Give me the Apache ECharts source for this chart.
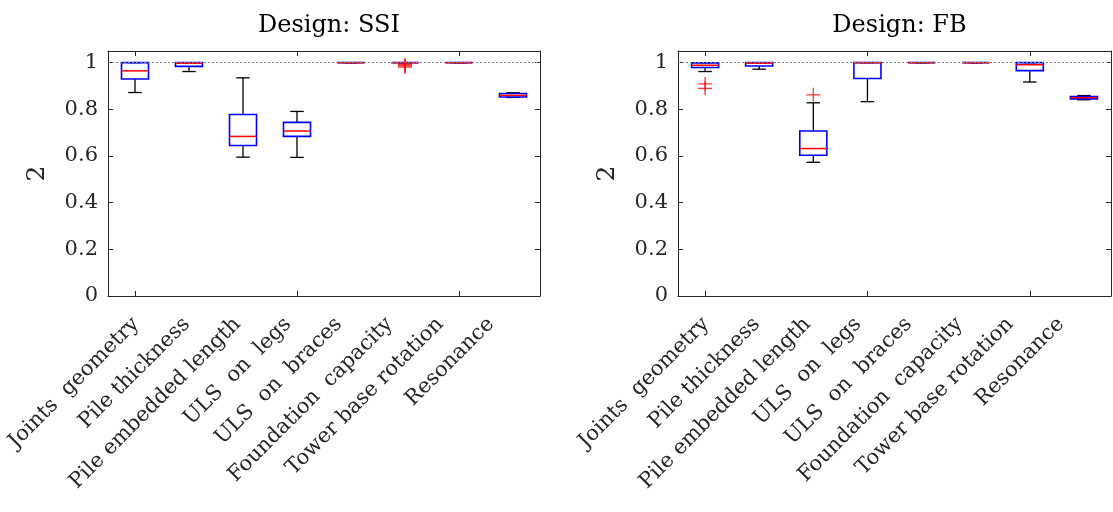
<!DOCTYPE html>
<html>
<head>
<meta charset="utf-8">
<script src="https://cdn.jsdelivr.net/npm/echarts@6/dist/echarts.min.js"></script>
<style>
  html, body { margin: 0; padding: 0; background: #fff; }
  #chart { width: 1113px; height: 512px; }
</style>
</head>
<body>
<div id="chart"></div>
<script>
// Check categories shared by both designs
const categories = [
  'Joints  geometry', 'Pile thickness', 'Pile embedded length', 'ULS  on  legs',
  'ULS  on  braces', 'Foundation  capacity', 'Tower base rotation', 'Resonance'
];

// Design: SSI — five-number summaries per check
const ssiMin    = [0.872, 0.962, 0.595, 0.594, 1.000, 1.000, 1.000, 0.851];
const ssiQ1     = [0.930, 0.984, 0.645, 0.684, 1.000, 1.000, 1.000, 0.853];
const ssiMedian = [0.965, 0.998, 0.684, 0.707, 1.000, 1.000, 1.000, 0.860];
const ssiQ3     = [1.000, 1.000, 0.778, 0.744, 1.000, 1.000, 1.000, 0.868];
const ssiMax    = [1.000, 1.000, 0.935, 0.791, 1.000, 1.000, 1.000, 0.871];
const ssiOutliers = [[5, 0.991], [5, 0.986], [5, 0.981]];

// Design: FB — five-number summaries per check
const fbMin    = [0.962, 0.972, 0.573, 0.833, 1.000, 1.000, 0.917, 0.841];
const fbQ1     = [0.979, 0.986, 0.603, 0.932, 1.000, 1.000, 0.966, 0.845];
const fbMedian = [0.989, 0.998, 0.632, 1.000, 1.000, 1.000, 0.991, 0.850];
const fbQ3     = [0.999, 1.000, 0.707, 1.000, 1.000, 1.000, 1.000, 0.855];
const fbMax    = [1.000, 1.000, 0.828, 1.000, 1.000, 1.000, 1.000, 0.859];
const fbOutliers = [[0, 0.909], [0, 0.890], [2, 0.862]];

const referenceLevel = 1;
const yAxisTitle = '2';

const FONT = 'DejaVu Serif';
const AXIS_COLOR = '#262626';

function rows(mins, q1s, meds, q3s, maxs) {
  return categories.map((_, i) => [i, mins[i], q1s[i], meds[i], q3s[i], maxs[i]]);
}

// Box: black whiskers with caps, blue box outline, red median
function renderBox(params, api) {
  const i = api.value(0);
  const lo = api.coord([i, api.value(1)]);
  const q1 = api.coord([i, api.value(2)]);
  const md = api.coord([i, api.value(3)]);
  const q3 = api.coord([i, api.value(4)]);
  const hi = api.coord([i, api.value(5)]);
  const band = api.size([1, 0])[0];
  const bw = band * 0.5;
  const cw = band * 0.25;
  const x = lo[0];
  const whisker = { stroke: '#000', lineWidth: 1.3 };
  return {
    type: 'group',
    children: [
      { type: 'line', shape: { x1: x, y1: q3[1], x2: x, y2: hi[1] }, style: whisker },
      { type: 'line', shape: { x1: x, y1: q1[1], x2: x, y2: lo[1] }, style: whisker },
      { type: 'line', shape: { x1: x - cw / 2, y1: hi[1], x2: x + cw / 2, y2: hi[1] }, style: whisker },
      { type: 'line', shape: { x1: x - cw / 2, y1: lo[1], x2: x + cw / 2, y2: lo[1] }, style: whisker },
      { type: 'rect', shape: { x: x - bw / 2, y: q3[1], width: bw, height: q1[1] - q3[1] },
        style: { fill: 'none', stroke: '#0000ff', lineWidth: 1.6 } },
      { type: 'line', shape: { x1: x - bw / 2, y1: md[1], x2: x + bw / 2, y2: md[1] },
        style: { stroke: '#ff0000', lineWidth: 1.5 } }
    ]
  };
}

const plusSymbol = 'path://M0,7L14,7M7,0L7,14';

function frameX(gridIndex, position) {
  return {
    type: 'category', data: categories, gridIndex, position, boundaryGap: true,
    axisLine: { show: true, onZero: false, lineStyle: { color: AXIS_COLOR, width: 1 } },
    axisTick: { show: true, inside: true, alignWithLabel: true, length: 5, lineStyle: { color: AXIS_COLOR } },
    axisLabel: { show: false }, splitLine: { show: false }
  };
}

function labelX(gridIndex) {
  return {
    type: 'category', data: categories, gridIndex, position: 'bottom', boundaryGap: true,
    axisLine: { show: false }, axisTick: { show: false }, splitLine: { show: false },
    axisLabel: { show: true, interval: 0, rotate: 45, margin: 25, fontFamily: FONT, fontSize: 21, color: AXIS_COLOR }
  };
}

function frameY(gridIndex, position, withLabels) {
  const axis = {
    type: 'value', gridIndex, position, min: 0, max: 1.05, interval: 0.2,
    axisLine: { show: true, onZero: false, lineStyle: { color: AXIS_COLOR, width: 1 } },
    axisTick: { show: true, inside: true, length: 5, lineStyle: { color: AXIS_COLOR } },
    splitLine: { show: false },
    axisLabel: {
      show: withLabels, margin: 10, fontFamily: FONT, fontSize: 21, color: AXIS_COLOR,
      formatter: v => Math.abs(v * 5 - Math.round(v * 5)) < 1e-9 ? String(+v.toFixed(1)) : ''
    }
  };
  if (withLabels) {
    Object.assign(axis, {
      name: yAxisTitle, nameLocation: 'middle', nameRotate: 90, nameGap: 58,
      nameTextStyle: { fontFamily: FONT, fontSize: 25, color: AXIS_COLOR }
    });
  }
  return axis;
}

function designSeries(axisIndex, mins, q1s, meds, q3s, maxs, outliers) {
  return [
    {
      type: 'line', xAxisIndex: axisIndex, yAxisIndex: axisIndex, data: [], z: 1, silent: true,
      markLine: {
        silent: true, symbol: 'none', label: { show: false }, animation: false,
        lineStyle: { color: '#808080', type: [2, 2], width: 1 },
        data: [{ yAxis: referenceLevel }]
      }
    },
    {
      type: 'custom', xAxisIndex: axisIndex, yAxisIndex: axisIndex, z: 3,
      renderItem: renderBox, data: rows(mins, q1s, meds, q3s, maxs),
      encode: { x: 0, y: [1, 2, 3, 4, 5] }
    },
    {
      type: 'scatter', xAxisIndex: axisIndex, yAxisIndex: axisIndex, z: 4,
      symbol: plusSymbol, symbolSize: 14, data: outliers,
      itemStyle: { color: 'rgba(0,0,0,0)', borderColor: '#ff0000', borderWidth: 1.3 }
    }
  ];
}

const titleStyle = { fontFamily: FONT, fontSize: 24, fontWeight: 'normal', color: '#000' };

const option = {
  animation: false,
  backgroundColor: '#fff',
  title: [
    { text: 'Design: SSI', left: 324, top: 9, textAlign: 'center', textStyle: titleStyle },
    { text: 'Design: FB', left: 894.5, top: 9, textAlign: 'center', textStyle: titleStyle }
  ],
  grid: [
    { left: 108, right: 573, top: 51, bottom: 216 },
    { left: 678, right: 2, top: 51, bottom: 216 },
    { left: 110.6, right: 596.8, top: 51, bottom: 216 },
    { left: 680.6, right: 26.8, top: 51, bottom: 216 }
  ],
  xAxis: [
    frameX(0, 'bottom'), frameX(1, 'bottom'),
    frameX(0, 'top'), frameX(1, 'top'),
    labelX(2), labelX(3)
  ],
  yAxis: [
    frameY(0, 'left', true), frameY(1, 'left', true),
    frameY(0, 'right', false), frameY(1, 'right', false),
    { type: 'value', gridIndex: 2, show: false }, { type: 'value', gridIndex: 3, show: false }
  ],
  series: [
    ...designSeries(0, ssiMin, ssiQ1, ssiMedian, ssiQ3, ssiMax, ssiOutliers),
    ...designSeries(1, fbMin, fbQ1, fbMedian, fbQ3, fbMax, fbOutliers)
  ]
};

const chart = echarts.init(document.getElementById('chart'), null, { renderer: 'canvas' });
chart.setOption(option);
</script>
</body>
</html>
